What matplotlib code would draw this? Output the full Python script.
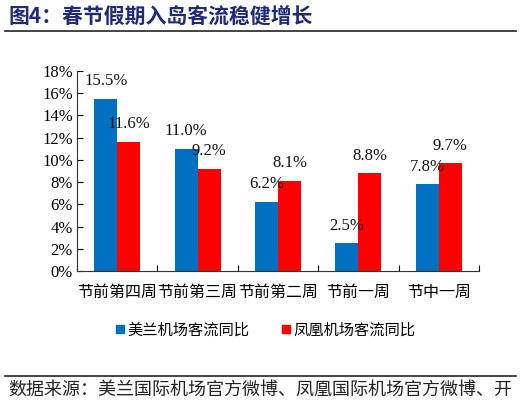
import matplotlib
matplotlib.use("Agg")
import matplotlib.pyplot as plt
from matplotlib.lines import Line2D
import numpy as np

plt.rcParams['font.family'] = ['Liberation Serif', 'Noto Sans CJK SC']

categories = ["节前第四周", "节前第三周", "节前第二周", "节前一周", "节中一周"]
meilan = [15.5, 11.0, 6.2, 2.5, 7.8]     # 美兰机场客流同比 (%)
fenghuang = [11.6, 9.2, 8.1, 8.8, 9.7]   # 凤凰机场客流同比 (%)
series_names = ["美兰机场客流同比", "凤凰机场客流同比"]
yticks = [0, 2, 4, 6, 8, 10, 12, 14, 16, 18]

blue = "#0070C0"
red = "#FF0000"
cjk = ["Noto Sans CJK SC", "DejaVu Sans"]

fig = plt.figure(figsize=(5.22, 4.05), dpi=100)
ax = fig.add_axes([77 / 522, 1 - 271 / 405, (479 - 77) / 522, (271 - 71) / 405])

x = np.arange(len(categories))
w = 0.286
b1 = ax.bar(x - w / 2, meilan, w, color=blue, zorder=2)
b2 = ax.bar(x + w / 2, fenghuang, w, color=red, zorder=2)

for bars, vals in ((b1, meilan), (b2, fenghuang)):
    for rect, v in zip(bars, vals):
        ax.annotate(f"{v:.1f}%", (rect.get_x() + rect.get_width() / 2, v),
                    xytext=(0, 7), textcoords="offset points",
                    ha="center", va="bottom", fontsize=12, color="#111111",
                    zorder=3)

ax.set_xlim(-0.5, len(categories) - 0.5)
ax.set_ylim(0, 18)
ax.set_yticks(yticks)
ax.set_yticklabels([f"{t}%" for t in yticks], fontsize=12)
ax.set_xticks(np.arange(len(categories) + 1) - 0.5)
ax.set_xticklabels([])
ax.set_xticks(x, minor=True)
ax.set_xticklabels(categories, minor=True, fontsize=11.5, family=cjk)
ax.tick_params(axis="x", which="minor", length=0, pad=9)
ax.tick_params(axis="x", which="major", direction="in", length=4)
ax.tick_params(axis="y", direction="in", length=4, pad=3)
for s in ("top", "right"):
    ax.spines[s].set_visible(False)
for s in ("left", "bottom"):
    ax.spines[s].set_color("#333333")

handles = [Line2D([], [], marker="s", linestyle="none", markersize=6,
                  markerfacecolor=c, markeredgecolor=c) for c in (blue, red)]
fig.legend(handles, series_names, loc="center", bbox_to_anchor=(0.507, 0.185),
           ncol=2, frameon=False, handletextpad=0.1, columnspacing=2.0,
           prop={"family": cjk, "size": 11}, handlelength=0.8)

fig.text(8 / 522, 1 - 16 / 405, "图4：春节假期入岛客流稳健增长", fontsize=15,
         fontweight="bold", color="#1F2A7A", family=cjk, va="center", ha="left")
fig.add_artist(Line2D([5 / 522, 516 / 522], [1 - 31 / 405, 1 - 31 / 405],
                      color="#222222", linewidth=1.2))
fig.add_artist(Line2D([5 / 522, 516 / 522], [1 - 376 / 405, 1 - 376 / 405],
                      color="#222222", linewidth=1.2))
fig.text(8 / 522, 1 - 390 / 405, "数据来源：美兰国际机场官方微博、凤凰国际机场官方微博、开",
         fontsize=13, color="#222222", family=cjk, va="center", ha="left")

fig.savefig("out.png", dpi=100)
